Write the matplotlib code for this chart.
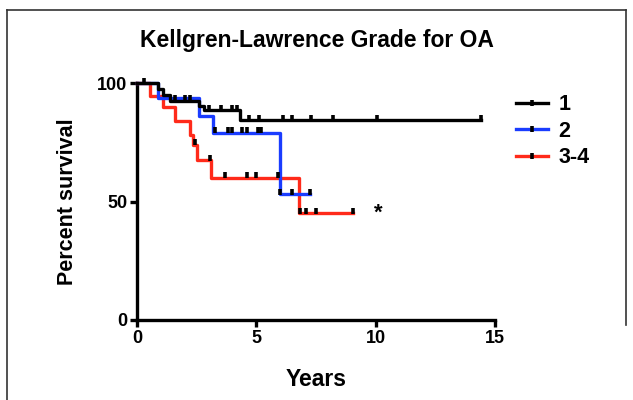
import numpy as np
import matplotlib
matplotlib.use("Agg")
import matplotlib.pyplot as plt
from matplotlib.lines import Line2D

plt.rcParams['font.family'] = ['Liberation Sans', 'DejaVu Sans']

# ---- data ----
g1_times = [0, 0.9, 1.1, 1.4, 2.6, 2.8, 4.3, 14.4]
g1_surv = [100, 97.5, 95, 92.5, 90.5, 88.6, 84.4, 84.4]
g1_censor = [0.3, 1.6, 2.0, 2.2, 3.0, 3.5, 4.0, 4.2, 4.7, 5.1, 6.1, 6.5, 7.3, 8.2, 10.05, 14.4]

g2_times = [0, 0.9, 2.6, 3.2, 6.0, 7.25]
g2_surv = [100, 93.5, 86, 79, 53, 53]
g2_censor = [3.25, 3.8, 4.0, 4.4, 4.6, 5.05, 5.2, 6.0, 6.5, 7.25]

g3_times = [0, 0.55, 1.1, 1.6, 2.2, 2.35, 2.5, 3.1, 6.8, 9.05]
g3_surv = [100, 94.5, 90, 84, 78, 74, 67.5, 60, 45, 45]
g3_censor = [2.45, 3.05, 3.7, 4.6, 5.0, 5.9, 6.85, 7.1, 7.5, 9.05]

labels = ["1", "2", "3-4"]
colors = ["#000000", "#1a3cff", "#ff2a1a"]

x_ticks = [0, 5, 10, 15]
y_ticks = [0, 50, 100]

star_pos = (10.1, 45)

def surv_at(times, surv, t):
    idx = np.searchsorted(times, t, side='right') - 1
    return np.array(surv)[idx]

fig = plt.figure(figsize=(6.33, 4.0), dpi=100)
ax = fig.add_axes([137/633, 80/400, (495-137)/633, (320-83)/400])

groups = [(g1_times, g1_surv, g1_censor), (g2_times, g2_surv, g2_censor), (g3_times, g3_surv, g3_censor)]
order = [0, 1, 2]
for i in order:
    t, s, c = groups[i]
    ax.step(t, s, where='post', color=colors[i], lw=2.4, clip_on=False, zorder=3 - i * 0.5 + 1)
for i in order:
    t, s, c = groups[i]
    ax.plot(c, surv_at(t, s, c) + 1.0, ls='none', marker='|', ms=5, mew=2.6, color='black',
            clip_on=False, zorder=6)

ax.text(star_pos[0], star_pos[1], "*", fontsize=16, fontweight='bold', ha='center', va='center')

ax.set_xlim(0, 15)
ax.set_ylim(0, 100)
ax.set_xticks(x_ticks)
ax.set_yticks(y_ticks)
for sp in ['top', 'right']:
    ax.spines[sp].set_visible(False)
for sp in ['left', 'bottom']:
    ax.spines[sp].set_linewidth(2.4)
ax.tick_params(direction='out', length=5, width=2.4, labelsize=13, pad=2)
for lab in ax.get_xticklabels() + ax.get_yticklabels():
    lab.set_fontweight('bold')

ax.set_xlabel("Years", fontsize=16.5, fontweight='bold', labelpad=15)
ax.set_ylabel("Percent survival", fontsize=15.5, fontweight='bold', labelpad=14)
fig.text(317/633, 1 - 40/400, "Kellgren-Lawrence Grade for OA", fontsize=16.5, fontweight='bold',
         ha='center', va='center')

handles = [Line2D([0], [0], color=colors[i], lw=2.4, marker='|', ms=5, mew=2.6,
                  markeredgecolor='black') for i in range(3)]
leg = fig.legend(handles, labels, loc='upper left', bbox_to_anchor=(497/633, 1 - 75/400),
                 frameon=False, handlelength=1.45, handletextpad=0.5, labelspacing=0.25,
                 prop={'size': 15.5, 'weight': 'bold'}, numpoints=1)

# figure frame
border_kw = dict(color='#333333', lw=1.2, transform=fig.transFigure, clip_on=False)
fig.add_artist(Line2D([7/633, 7/633], [0, 1 - 10/400], **border_kw))
fig.add_artist(Line2D([7/633, 626/633], [1 - 10/400, 1 - 10/400], **border_kw))
fig.add_artist(Line2D([626/633, 626/633], [1 - 10/400, 1 - 325/400], **border_kw))

fig.savefig("out.png", dpi=100)
